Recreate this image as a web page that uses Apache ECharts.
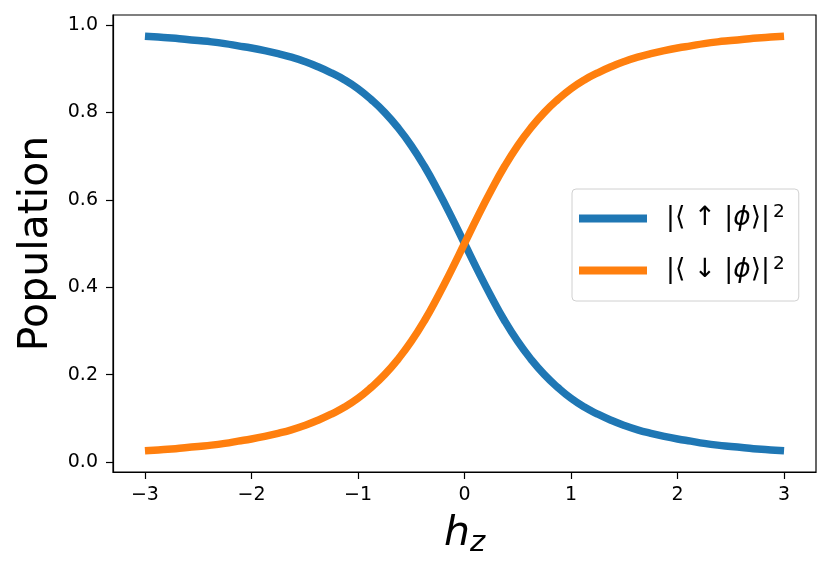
<!DOCTYPE html>
<html><head><meta charset="utf-8">
<script src="https://cdn.jsdelivr.net/npm/echarts@6/dist/echarts.min.js"></script>
<style>html,body{margin:0;padding:0;background:#fff}#c{width:831px;height:573px}</style>
</head><body><div id="c"></div>
<script>
const hz = [-3,-2.875,-2.75,-2.625,-2.5,-2.375,-2.25,-2.125,-2,-1.875,-1.75,-1.625,-1.5,-1.375,-1.25,-1.125,-1,-0.875,-0.75,-0.625,-0.5,-0.375,-0.25,-0.125,0,
            0.125,0.25,0.375,0.5,0.625,0.75,0.875,1,1.125,1.25,1.375,1.5,1.625,1.75,1.875,2,2.125,2.25,2.375,2.5,2.625,2.75,2.875,3];
const popUp = [0.974,0.972,0.970,0.967,0.964,0.961,0.957,0.952,0.947,0.941,0.934,0.926,0.916,0.904,0.890,0.874,0.854,0.829,0.800,0.765,0.724,0.676,0.621,0.562,0.500,
               0.438,0.379,0.324,0.276,0.235,0.200,0.171,0.146,0.126,0.110,0.096,0.084,0.074,0.066,0.059,0.053,0.048,0.043,0.039,0.036,0.033,0.030,0.028,0.026];
const popDown = [0.026,0.028,0.030,0.033,0.036,0.039,0.043,0.048,0.053,0.059,0.066,0.074,0.084,0.096,0.110,0.126,0.146,0.171,0.200,0.235,0.276,0.324,0.379,0.438,0.500,
                 0.562,0.621,0.676,0.724,0.765,0.800,0.829,0.854,0.874,0.890,0.904,0.916,0.926,0.934,0.941,0.947,0.952,0.957,0.961,0.964,0.967,0.970,0.972,0.974];
const xTicks = [-3,-2,-1,0,1,2,3];
const yTicks = [0,0.2,0.4,0.6,0.8,1.0];
const seriesNames = ['up','down'];

const chart = echarts.init(document.getElementById('c'), null, {renderer:'canvas'});
const font = 'DejaVu Sans';
chart.setOption({
  animation:false,
  grid:{left:113,right:15,top:15,bottom:101,show:true,borderColor:'#000',borderWidth:1.2,backgroundColor:'transparent'},
  xAxis:{type:'value',min:-3.3,max:3.3,
    axisLine:{show:true,onZero:false,lineStyle:{color:'#000',width:1.2}},
    axisTick:{show:true,inside:false,length:7,customValues:xTicks,lineStyle:{color:'#000',width:1.2}},
    axisLabel:{customValues:xTicks,fontFamily:font,fontSize:19,color:'#000',margin:14,formatter:v=>String(v).replace('-','\u2212')},
    splitLine:{show:false},
    name:'{h|h}{z|z}',nameLocation:'middle',nameGap:37,
    nameTextStyle:{rich:{
      h:{fontFamily:font,fontStyle:'italic',fontSize:41,lineHeight:50,color:'#000'},
      z:{fontFamily:font,fontStyle:'italic',fontSize:29,lineHeight:32,color:'#000',padding:[18,0,0,0]}}}
  },
  yAxis:{type:'value',min:-0.0225,max:1.0225,
    axisLine:{show:true,onZero:false,lineStyle:{color:'#000',width:1.2}},
    axisTick:{show:true,inside:false,length:7,customValues:yTicks,lineStyle:{color:'#000',width:1.2}},
    axisLabel:{customValues:yTicks,fontFamily:font,fontSize:19,color:'#000',margin:15,formatter:v=>v.toFixed(1)},
    splitLine:{show:false},
    name:'Population',nameLocation:'middle',nameGap:53,nameRotate:90,
    nameTextStyle:{fontFamily:font,fontSize:41,color:'#000'}
  },
  legend:{show:true,orient:'vertical',left:572,top:189,
    data:seriesNames,
    icon:'rect',itemWidth:68,itemHeight:8,itemGap:23,
    padding:[14,14,17,7],
    borderColor:'#d0d0d0',borderWidth:1,borderRadius:4,backgroundColor:'#fff',
    formatter:function(n){return n==='up'?'|\u27E8 \u2191 |{i|\u03D5}\u27E9|{s|2}':'|\u27E8 \u2193 |{i|\u03D5}\u27E9|{s|2}';},
    textStyle:{fontFamily:font,fontSize:26.5,color:'#000',padding:[0,0,0,14],
      rich:{i:{fontFamily:font,fontStyle:'italic',fontSize:26.5,color:'#000'},s:{fontFamily:font,fontSize:18.5,color:'#000',verticalAlign:'top',padding:[0,0,12,3]}}}
  },
  series:[
    {name:'up',type:'line',data:hz.map((x,i)=>[x,popUp[i]]),smooth:true,showSymbol:false,symbol:'none',lineStyle:{color:'#1f77b4',width:7.5,cap:'butt'},itemStyle:{color:'#1f77b4'}},
    {name:'down',type:'line',data:hz.map((x,i)=>[x,popDown[i]]),smooth:true,showSymbol:false,symbol:'none',lineStyle:{color:'#ff7f0e',width:7.5,cap:'butt'},itemStyle:{color:'#ff7f0e'}}
  ]
});
</script></body></html>
